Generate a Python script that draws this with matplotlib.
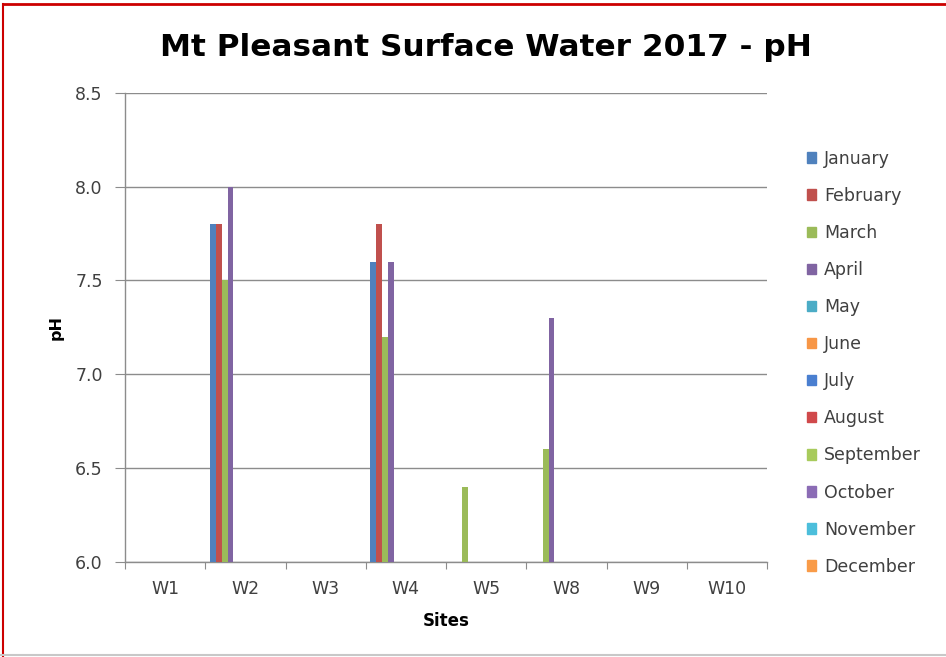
import numpy as np
import matplotlib
matplotlib.use("Agg")
import matplotlib.pyplot as plt
from matplotlib.lines import Line2D

# Sites along the x axis
sites = ["W1", "W2", "W3", "W4", "W5", "W8", "W9", "W10"]

months = ["January", "February", "March", "April", "May", "June",
          "July", "August", "September", "October", "November", "December"]

# pH readings per month (nan = no reading)
nan = np.nan
january = [nan, 7.8, nan, 7.6, nan, nan, nan, nan]
february = [nan, 7.8, nan, 7.8, nan, nan, nan, nan]
march = [nan, 7.5, nan, 7.2, 6.4, 6.6, nan, nan]
april = [nan, 8.0, nan, 7.6, nan, 7.3, nan, nan]
empty = [nan] * len(sites)

values = [january, february, march, april] + [empty] * 8

colors = ["#4F81BD", "#C0504D", "#9BBB59", "#8064A2", "#4BACC6", "#F79646",
          "#4A7FD0", "#D0494B", "#A8CB5C", "#8B6CB5", "#4CBEDB", "#F99B48"]

plt.rcParams['font.family'] = ['DejaVu Sans']

fig = plt.figure(figsize=(9.46, 6.57), dpi=100)
ax = fig.add_axes([125 / 946, 1 - 561.7 / 657, 642 / 946, 469 / 657])

x = np.arange(len(sites))
w = 1 / 13.5
for i, (name, vals) in enumerate(zip(months, values)):
    offs = (i - 5.5) * w
    ax.bar(x + offs, np.array(vals) - 6.0, width=w, bottom=6.0,
           color=colors[i], label=name, zorder=3)

ax.set_xlim(-0.5, len(sites) - 0.5)
ax.set_ylim(6.0, 8.5)
ax.set_yticks([6.0, 6.5, 7.0, 7.5, 8.0, 8.5])
ax.set_yticklabels(["6.0", "6.5", "7.0", "7.5", "8.0", "8.5"])
ax.yaxis.grid(True, color="#8c8c8c", linewidth=1.0, zorder=0)

# x ticks sit between categories, labels at centers
ax.set_xticks(np.arange(-0.5, len(sites), 1.0))
ax.set_xticklabels([])
ax.set_xticks(x, minor=True)
ax.set_xticklabels(sites, minor=True)
ax.tick_params(axis="x", which="minor", length=0, pad=13,
               labelsize=12.5, labelcolor="#404040")
ax.tick_params(axis="x", which="major", length=5, color="#8c8c8c", direction="out")
ax.tick_params(axis="y", length=7, color="#8c8c8c", pad=9,
               labelsize=12.5, labelcolor="#404040")

for side in ["top", "right"]:
    ax.spines[side].set_visible(False)
for side in ["left", "bottom"]:
    ax.spines[side].set_color("#8c8c8c")
    ax.spines[side].set_linewidth(1.0)

ax.set_xlabel("Sites", fontsize=12, fontweight="bold", labelpad=10)
ax.set_ylabel("pH", fontsize=11.5, fontweight="bold", labelpad=8.5)

fig.text(0.514, 1 - 47 / 657, "Mt Pleasant Surface Water 2017 - pH",
         ha="center", va="center", fontsize=22.4, fontweight="bold")

handles = [plt.Rectangle((0, 0), 1, 1, color=c) for c in colors]
fig.legend(handles, months, loc="upper left",
           bbox_to_anchor=(798 / 946, 1 - 141 / 657), frameon=False,
           fontsize=12.5, handlelength=0.55, handleheight=0.55,
           handletextpad=0.45, labelspacing=1.10, borderpad=0,
           labelcolor="#404040")

# outer frame of the screenshot
fig.add_artist(Line2D([3 / 946, 3 / 946], [0, 1 - 4 / 657], color="#cc0000",
                      linewidth=1.5, transform=fig.transFigure))
fig.add_artist(Line2D([3 / 946, 1], [1 - 4 / 657, 1 - 4 / 657], color="#cc0000",
                      linewidth=2, transform=fig.transFigure))
fig.add_artist(Line2D([0, 1], [2 / 657, 2 / 657], color="#c8c8c8",
                      linewidth=1.5, transform=fig.transFigure))

fig.savefig("out.png", dpi=100)
